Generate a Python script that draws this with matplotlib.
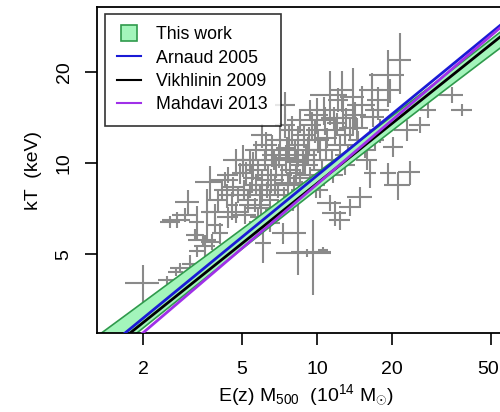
import numpy as np
import matplotlib
matplotlib.use("Agg")
import matplotlib.pyplot as plt
from matplotlib.lines import Line2D
from matplotlib.ticker import NullLocator
from matplotlib.transforms import ScaledTranslation

plt.rcParams['font.family'] = ['Liberation Sans', 'DejaVu Sans']
plt.rcParams['mathtext.fontset'] = 'custom'
plt.rcParams['mathtext.rm'] = 'Liberation Sans'
plt.rcParams['mathtext.it'] = 'Liberation Sans:italic'

# cluster sample: E(z) M500 in 1e14 Msun, kT in keV, 1-sigma errors
mass = [2.00, 2.50, 2.82, 3.09, 2.71, 3.55, 3.29, 3.72, 3.03, 2.74,
        2.57, 3.29, 3.61, 3.89, 3.48, 3.78, 4.08, 4.39, 4.35, 4.60,
        5.04, 4.91, 2.95, 4.55, 5.14, 5.28, 5.38, 5.48, 5.64, 5.79,
        5.90, 6.01, 6.18, 6.18, 6.35, 6.47, 6.59, 6.78, 6.84, 6.97,
        7.10, 7.23, 7.37, 7.50, 7.64, 7.79, 7.93, 8.01, 8.16, 8.31,
        8.39, 8.54, 8.70, 8.86, 8.95, 9.20, 9.37, 9.54, 9.72, 9.90,
        10.09, 10.28, 10.47, 10.76, 10.97, 11.27, 11.48, 11.81, 12.03, 12.37,
        12.72, 12.95, 13.32, 13.57, 14.21, 14.61, 15.16, 15.58, 16.63, 17.10,
        17.57, 17.90, 6.07, 8.39, 9.63, 11.81, 12.37, 13.57, 11.27, 14.90,
        16.32, 19.27, 21.10, 23.60, 10.57, 9.11, 7.30, 6.47, 5.79, 5.38,
        21.50, 19.27, 34.80, 38.20, 27.90, 23.00, 20.20, 13.95, 17.57, 16.78,
        19.60, 25.90, 5.69, 5.18, 4.81, 4.73, 6.30, 6.72, 7.57, 8.23,
        9.03, 9.81, 10.67, 12.14, 13.07, 8.54, 7.44, 9.37, 5.69, 6.01,
        6.97, 10.28, 11.59, 12.95, 5.38, 4.39, 4.15, 3.23, 3.89, 5.09,
        5.53, 5.96, 6.53, 7.04, 7.71, 8.08, 8.78, 9.28, 9.99, 10.86,
        11.70, 12.60, 6.24, 4.73, 4.27, 4.00, 14.47, 15.87, 7.44]
mass_err = [0.31, 0.21, 0.26, 0.23, 0.18, 0.33, 0.24, 0.48, 0.34, 0.36,
            0.24, 0.24, 0.20, 0.36, 0.45, 0.35, 0.30, 0.41, 0.32, 0.43,
            0.47, 0.36, 0.33, 0.25, 0.57, 0.49, 0.70, 0.46, 0.78, 0.54,
            0.66, 0.45, 0.80, 0.57, 0.71, 0.54, 0.79, 1.00, 0.63, 0.77,
            0.79, 0.67, 0.96, 0.63, 0.85, 0.72, 0.88, 0.59, 1.06, 0.77,
            0.70, 0.95, 0.81, 0.98, 1.16, 0.85, 1.04, 0.88, 1.26, 0.83,
            1.12, 0.95, 1.16, 1.39, 1.02, 1.88, 1.06, 1.31, 1.11, 1.60,
            1.18, 1.08, 1.48, 1.26, 1.58, 1.35, 1.97, 1.44, 1.85, 1.43,
            1.95, 1.66, 0.45, 0.62, 1.78, 1.31, 1.15, 1.26, 1.25, 1.66,
            0.91, 1.43, 2.54, 2.40, 0.49, 2.28, 0.68, 0.60, 0.43, 0.40,
            2.39, 3.03, 3.87, 3.54, 2.07, 2.56, 1.87, 1.55, 1.63, 1.86,
            1.81, 2.40, 0.53, 0.38, 0.45, 0.53, 0.58, 0.75, 0.70, 0.69,
            1.00, 0.82, 0.99, 1.12, 1.45, 0.95, 0.69, 0.87, 0.53, 0.56,
            0.65, 0.76, 1.07, 1.20, 0.50, 0.41, 0.31, 0.24, 0.29, 0.75,
            0.72, 0.88, 0.85, 1.04, 0.86, 1.20, 1.14, 1.03, 1.11, 1.41,
            1.30, 1.17, 0.69, 0.53, 0.55, 0.37, 1.61, 1.47, 0.69]
kT = [4.01, 4.10, 4.49, 4.63, 4.36, 5.31, 5.11, 8.65, 7.43, 6.48,
      6.38, 6.38, 6.89, 6.89, 5.56, 5.48, 5.87, 6.63, 7.84, 8.34,
      10.24, 9.27, 6.73, 7.26, 6.73, 7.55, 8.15, 8.92, 7.26, 9.48,
      7.84, 8.46, 10.24, 6.38, 9.13, 7.55, 11.05, 8.46, 9.86, 6.99,
      11.90, 9.13, 7.84, 10.40, 8.59, 9.48, 12.87, 7.55, 11.05, 10.08,
      11.48, 8.92, 8.15, 12.38, 9.86, 11.05, 9.13, 13.37, 10.24, 8.46,
      11.90, 11.05, 9.48, 13.90, 12.11, 16.81, 10.24, 12.87, 13.57, 11.48,
      14.99, 12.38, 10.64, 13.07, 14.43, 11.90, 15.57, 11.05, 17.46, 11.90,
      14.99, 12.87, 5.44, 5.87, 5.08, 6.84, 6.48, 7.15, 7.38, 7.72,
      9.27, 9.27, 8.46, 9.34, 5.15, 5.04, 5.87, 6.33, 6.63, 6.00,
      21.90, 19.57, 16.81, 14.99, 14.99, 12.87, 11.31, 16.55, 16.20, 14.21,
      17.46, 13.37, 8.46, 9.27, 7.84, 6.89, 8.15, 10.24, 11.22, 9.27,
      10.64, 12.87, 14.99, 16.20, 14.10, 13.90, 13.37, 14.99, 11.05, 12.38,
      8.15, 8.15, 9.13, 9.86, 10.24, 9.13, 8.15, 5.78, 6.24, 8.15,
      9.86, 7.10, 8.79, 10.64, 11.90, 8.46, 10.24, 11.90, 14.43, 11.05,
      14.10, 17.46, 11.48, 10.24, 8.79, 7.55, 13.07, 10.24, 15.57]
kT_err = [0.58, 0.13, 0.17, 0.32, 0.13, 0.49, 0.23, 1.12, 0.74, 0.40,
          0.29, 0.83, 1.31, 0.42, 0.25, 0.33, 0.45, 0.51, 0.72, 0.64,
          1.25, 0.71, 0.36, 0.78, 0.46, 0.69, 0.50, 0.95, 0.39, 0.72,
          0.72, 1.03, 0.78, 0.39, 0.84, 0.58, 1.35, 0.58, 0.90, 0.53,
          1.64, 0.70, 0.48, 1.11, 0.66, 0.87, 1.47, 0.58, 0.84, 0.92,
          1.75, 0.68, 0.56, 1.13, 0.75, 1.18, 0.56, 1.43, 0.78, 0.78,
          1.09, 0.84, 0.72, 1.49, 0.92, 3.46, 0.78, 1.38, 1.04, 1.05,
          1.83, 0.95, 0.81, 1.20, 1.54, 0.91, 2.38, 0.67, 2.40, 0.91,
          1.14, 1.18, 0.75, 1.61, 1.43, 0.63, 0.49, 0.44, 0.45, 0.59,
          0.99, 0.71, 0.90, 0.86, 0.12, 0.15, 0.45, 0.39, 0.40, 0.46,
          5.00, 4.18, 1.03, 0.69, 0.92, 0.98, 0.86, 4.17, 1.73, 1.08,
          1.60, 0.82, 0.65, 0.85, 0.48, 0.53, 0.50, 0.78, 1.03, 0.64,
          0.81, 1.18, 1.60, 1.48, 1.08, 1.27, 1.22, 1.14, 0.84, 1.13,
          0.50, 0.50, 0.56, 0.75, 0.94, 0.56, 0.62, 0.26, 0.38, 0.62,
          1.05, 0.43, 0.81, 0.97, 1.45, 0.65, 0.94, 1.27, 1.98, 0.84,
          1.29, 2.67, 1.23, 0.94, 0.54, 0.58, 1.00, 0.78, 1.66]

# power-law fit kT = norm * (M / pivot)^slope, errors in dex
fit_pivot = 25.0
fit_norm = 15.6
fit_slope = 0.635
fit_norm_err = 0.024
fit_slope_err = 0.032

# literature relations, normalised at E(z) M500 = 1e15 Msun
ref_names = ["Arnaud 2005", "Vikhlinin 2009", "Mahdavi 2013"]
ref_norm = [9.10, 8.57, 8.52]
ref_slope = [0.676, 0.6595, 0.704]
ref_colors = ["#1a1ad6", "black", "#a030e8"]

band_fill = "#a3f5bb"
band_edge = "#2f9a4c"

fig = plt.figure(figsize=(5, 4.12), dpi=100)
ax = fig.add_axes([0.194, 0.1917, 0.836, 0.7913])
ax.set_xscale("log")
ax.set_yscale("log")

ax.errorbar(mass, kT, xerr=mass_err, yerr=kT_err, fmt="none",
            ecolor="#8a8a8a", elinewidth=1.5, capsize=0, zorder=1)

m = np.logspace(-0.2, 2, 300)
L = np.log10(m / fit_pivot)
logc = np.log10(fit_norm) + fit_slope * L
w = np.sqrt(fit_norm_err**2 + (fit_slope_err * L)**2)
ax.fill_between(m, 10**(logc - w), 10**(logc + w), facecolor=band_fill,
                edgecolor="none", zorder=2)
ax.plot(m, 10**(logc + w), color=band_edge, lw=1.2, zorder=2.5)
ax.plot(m, 10**(logc - w), color=band_edge, lw=1.2, zorder=2.5)

for name, a, b, c in zip(ref_names, ref_norm, ref_slope, ref_colors):
    ax.plot(m, a * (m / 10.0)**b, color=c, lw=2, zorder=3)

ax.set_xlim(1.307, 62.4)
ax.set_ylim(2.74, 32.9)

ax.set_xticks([2, 5, 10, 20, 50])
ax.set_xticklabels(["2", "5", "10", "20", "50"])
ax.set_yticks([5, 10, 20])
ax.set_yticklabels(["5", "10", "20"], rotation=90, va="center")
ax.xaxis.set_minor_locator(NullLocator())
ax.yaxis.set_minor_locator(NullLocator())
ax.tick_params(axis="both", length=8.5, width=1.2, labelsize=14)
ax.tick_params(axis="x", pad=12)
ax.tick_params(axis="y", pad=9)
for s in ax.spines.values():
    s.set_linewidth(1.3)

# last x label sits at the figure edge, nudge it inwards a little
last = ax.get_xticklabels()[-1]
last.set_transform(last.get_transform() + ScaledTranslation(-3 / 100, 0, fig.dpi_scale_trans))

ax.set_xlabel(r"E(z) M$_{500}$  (10$^{14}$ M$_{\odot}$)", fontsize=14, labelpad=3)
ax.set_ylabel("kT  (keV)", fontsize=14, labelpad=10)

handles = [Line2D([], [], marker="s", markersize=11, markerfacecolor=band_fill,
                  markeredgecolor=band_edge, markeredgewidth=1.2, linestyle="none")]
handles += [Line2D([], [], color=c, lw=1.5) for c in ref_colors]
leg = ax.legend(handles, ["This work"] + ref_names, loc="upper left",
                bbox_to_anchor=(0.019, 0.979), borderaxespad=0, fontsize=12.8,
                frameon=True, fancybox=False, edgecolor="black",
                handlelength=1.35, handletextpad=0.85, labelspacing=0.36,
                borderpad=0.7)
leg.get_frame().set_linewidth(1.2)
leg.set_zorder(5)

fig.savefig("out.png", dpi=100)
